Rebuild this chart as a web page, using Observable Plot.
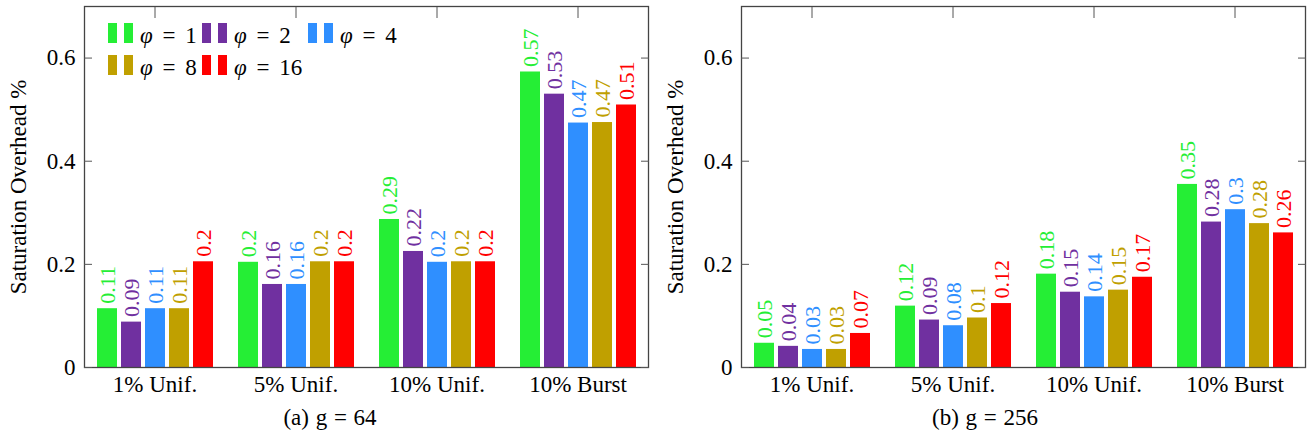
<!DOCTYPE html>
<html><head><meta charset="utf-8">
<script src="https://cdn.jsdelivr.net/npm/d3@7"></script>
<script src="https://cdn.jsdelivr.net/npm/@observablehq/plot@0.6"></script>
<style>
body{margin:0;background:#fff;}
#wrap{position:relative;width:1309px;height:437px;font-family:'Liberation Serif','Times New Roman',Times,'DejaVu Serif',serif;color:#000;}
#wrap svg, #wrap svg text{font-family:'Liberation Serif','Times New Roman',Times,'DejaVu Serif',serif !important;}
.panel{position:absolute;top:0;}
.caption{position:absolute;top:407px;font-size:23px;line-height:22px;white-space:nowrap;transform:translateX(-50%);word-spacing:1px;}
.legend{position:absolute;left:108px;top:23px;display:grid;grid-template-columns:94px 106px auto;row-gap:12px;font-size:23px;line-height:20px;}
.entry{display:flex;align-items:flex-start;height:20px;}
.sw{width:9px;height:20px;margin-right:7px;}
.lt{white-space:nowrap;position:relative;top:3px;word-spacing:4px;}
.lt i{font-style:italic;}
</style></head><body><div id="wrap"></div>
<script>
const categories = ["1% Unif.", "5% Unif.", "10% Unif.", "10% Burst"];
const phis = ["1", "2", "4", "8", "16"];
const seriesNames = phis.map(p => `φ = ${p}`);
const colors = ["#25ee35", "#7030a0", "#2f8fff", "#c0a000", "#ff0000"];
const yTicks = [0, 0.2, 0.4, 0.6];

// g = 64 (rows: categories, columns: phi)
const values64 = [
  [0.114, 0.088, 0.114, 0.114, 0.205],
  [0.204, 0.161, 0.161, 0.205, 0.205],
  [0.287, 0.225, 0.204, 0.205, 0.205],
  [0.573, 0.530, 0.474, 0.475, 0.509]
];
const labels64 = [
  ["0.11", "0.09", "0.11", "0.11", "0.2"],
  ["0.2", "0.16", "0.16", "0.2", "0.2"],
  ["0.29", "0.22", "0.2", "0.2", "0.2"],
  ["0.57", "0.53", "0.47", "0.47", "0.51"]
];
// g = 256
const values256 = [
  [0.047, 0.041, 0.035, 0.035, 0.066],
  [0.119, 0.092, 0.081, 0.096, 0.124],
  [0.181, 0.146, 0.137, 0.150, 0.175],
  [0.355, 0.282, 0.306, 0.279, 0.261]
];
const labels256 = [
  ["0.05", "0.04", "0.03", "0.03", "0.07"],
  ["0.12", "0.09", "0.08", "0.1", "0.12"],
  ["0.18", "0.15", "0.14", "0.15", "0.17"],
  ["0.35", "0.28", "0.3", "0.28", "0.26"]
];

function rowsOf(values, labels) {
  const rows = [];
  categories.forEach((c, i) => seriesNames.forEach((s, j) => rows.push({cat: c, series: s, value: values[i][j], label: labels[i][j]})));
  return rows;
}

const FONT = "'Liberation Serif', 'Times New Roman', Times, 'DejaVu Serif', serif";

function makePanel(values, labels, opts) {
  const rows = rowsOf(values, labels);
  return Plot.plot({
    width: opts.width, height: 395,
    marginLeft: opts.marginLeft, marginRight: opts.marginRight, marginTop: 6, marginBottom: 28,
    style: {fontFamily: FONT, fontSize: "23px", background: "white", color: "black", overflow: "visible"},
    fx: {domain: categories, padding: 0, axis: null, label: null},
    x: {domain: seriesNames, paddingInner: 0.17, paddingOuter: 0.45, axis: null},
    y: {domain: [0, 0.7], axis: null},
    color: {domain: seriesNames, range: colors},
    marks: [
      Plot.barY(rows, {fx: "cat", x: "series", y: "value", fill: "series"}),
      Plot.text(rows, {fx: "cat", x: "series", y: "value", text: "label", fill: "series", rotate: -90, textAnchor: "start", dy: -5, fontSize: 22, fontFamily: FONT}),
      Plot.frame({facet: "super", stroke: "#444", strokeWidth: 1.3}),
      Plot.axisY(yTicks, {anchor: "left", tickSize: -8, fill: "none", stroke: "#555"}),
      Plot.axisY(yTicks, {anchor: "right", tickSize: -8, fill: "none", stroke: "#555"}),
      Plot.axisY(yTicks, {anchor: "left", tickSize: 0, tickPadding: 9, stroke: "none", fontFamily: FONT,
        tickFormat: d => d === 0 ? "0" : d3.format(".1f")(d),
        label: "Saturation Overhead %", labelArrow: "none", labelAnchor: "center", labelOffset: 75}),
      Plot.axisFx({anchor: "top", tickSize: -11, fill: "none", stroke: "#555"}),
      Plot.axisFx({anchor: "bottom", tickSize: 0, tickPadding: 8, stroke: "none", label: null, fontFamily: FONT})
    ]
  });
}

const wrap = document.getElementById("wrap");
const p1 = makePanel(values64, labels64, {width: 654, marginLeft: 83, marginRight: 6});
p1.classList.add("panel"); p1.style.left = "0px";
const p2 = makePanel(values256, labels256, {width: 655, marginLeft: 86, marginRight: 4});
p2.classList.add("panel"); p2.style.left = "654px";
wrap.appendChild(p1); wrap.appendChild(p2);

// legend (inside left panel)
const legend = document.createElement("div");
legend.className = "legend";
seriesNames.forEach((s, j) => {
  const e = document.createElement("div");
  e.className = "entry";
  e.innerHTML = `<div class="sw" style="background:${colors[j]}"></div><div class="sw" style="background:${colors[j]}"></div><span class="lt"><i>φ</i> = ${phis[j]}</span>`;
  legend.appendChild(e);
});
wrap.appendChild(legend);

[["(a) g = 64", 330], ["(b) g = 256", 985]].forEach(([t, x]) => {
  const c = document.createElement("div");
  c.className = "caption"; c.style.left = x + "px"; c.textContent = t;
  wrap.appendChild(c);
});
</script></body></html>
